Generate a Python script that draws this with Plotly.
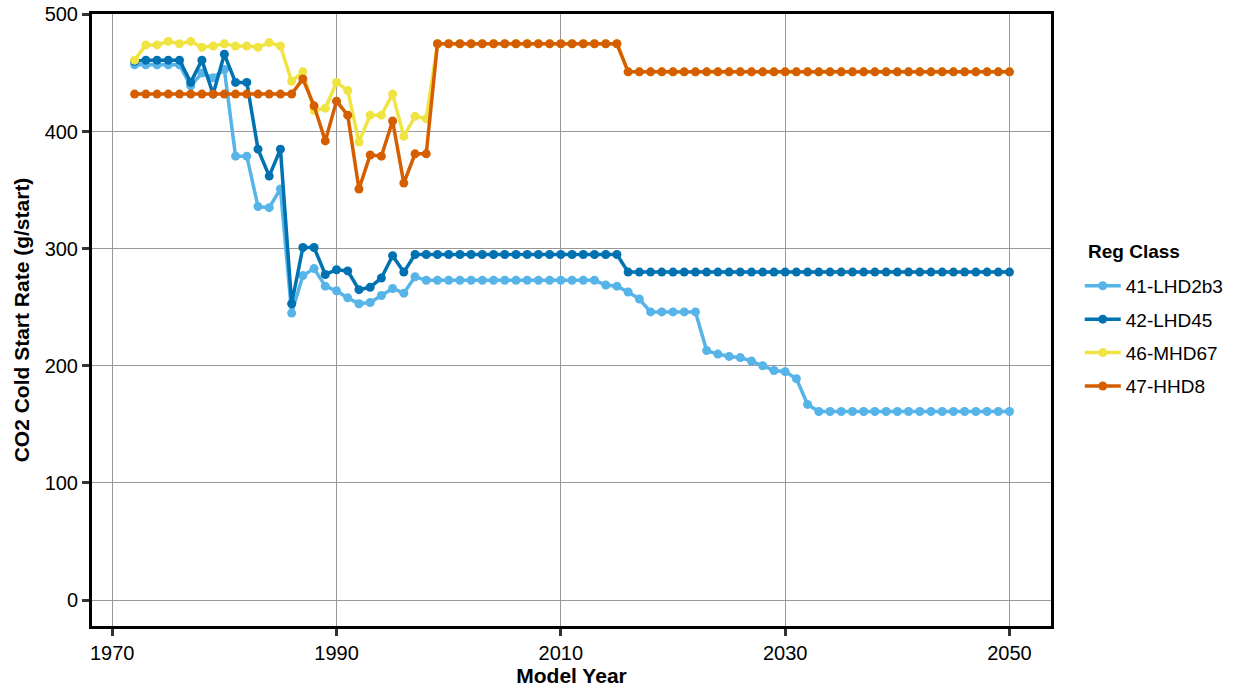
import plotly.graph_objects as go

years = list(range(1972, 2051))

lhd2b3 = [457, 457, 457, 457, 457, 439, 450, 446, 453, 379,
          379, 336, 335, 351, 245, 277, 283, 268, 264, 258,
          253, 254, 260, 266, 262, 276, 273, 273, 273, 273,
          273, 273, 273, 273, 273, 273, 273, 273, 273, 273,
          273, 273, 269, 268, 263, 257, 246, 246, 246, 246,
          246, 213, 210, 208, 207, 204, 200, 196, 195, 189,
          167, 161, 161, 161, 161, 161, 161, 161, 161, 161,
          161, 161, 161, 161, 161, 161, 161, 161, 161]

lhd45 = [460, 461, 461, 461, 461, 442, 461, 432, 466, 442,
         442, 385, 362, 385, 253, 301, 301, 278, 282, 281,
         265, 267, 275, 294, 280, 295, 295, 295, 295, 295,
         295, 295, 295, 295, 295, 295, 295, 295, 295, 295,
         295, 295, 295, 295, 280, 280, 280, 280, 280, 280,
         280, 280, 280, 280, 280, 280, 280, 280, 280, 280,
         280, 280, 280, 280, 280, 280, 280, 280, 280, 280,
         280, 280, 280, 280, 280, 280, 280, 280, 280]

mhd67 = [461, 474, 474, 477, 475, 477, 472, 473, 475, 473,
         473, 472, 476, 473, 443, 451, 418, 420, 442, 435,
         391, 414, 414, 432, 396, 413, 411, 475, 475, 475,
         475, 475, 475, 475, 475, 475, 475, 475, 475, 475,
         475, 475, 475, 475, 451, 451, 451, 451, 451, 451,
         451, 451, 451, 451, 451, 451, 451, 451, 451, 451,
         451, 451, 451, 451, 451, 451, 451, 451, 451, 451,
         451, 451, 451, 451, 451, 451, 451, 451, 451]

hhd8 = [432, 432, 432, 432, 432, 432, 432, 432, 432, 432,
        432, 432, 432, 432, 432, 445, 422, 392, 426, 414,
        351, 380, 379, 409, 356, 381, 381, 475, 475, 475,
        475, 475, 475, 475, 475, 475, 475, 475, 475, 475,
        475, 475, 475, 475, 451, 451, 451, 451, 451, 451,
        451, 451, 451, 451, 451, 451, 451, 451, 451, 451,
        451, 451, 451, 451, 451, 451, 451, 451, 451, 451,
        451, 451, 451, 451, 451, 451, 451, 451, 451]

series = [
    ("41-LHD2b3", lhd2b3, "#56B4E9"),
    ("42-LHD45", lhd45, "#0072B2"),
    ("46-MHD67", mhd67, "#F0E442"),
    ("47-HHD8", hhd8, "#D55E00"),
]

x_ticks = [1970, 1990, 2010, 2030, 2050]
y_ticks = [0, 100, 200, 300, 400, 500]

fig = go.Figure()
for name, vals, color in series:
    fig.add_trace(go.Scatter(
        x=years, y=vals, name=name, mode="lines+markers",
        legendgroup=name,
        line=dict(color=color, width=3.5),
        marker=dict(color=color, size=9),
    ))

font_family = "Liberation Sans, Arial, sans-serif"
fig.update_layout(
    width=1238, height=687,
    margin=dict(l=91.8, r=186.5, t=13.5, b=61, autoexpand=False),
    paper_bgcolor="white", plot_bgcolor="white",
    font=dict(family=font_family, size=20, color="black"),
    legend=dict(
        x=1.03, xanchor="left", y=0.474, yanchor="middle",
        font=dict(size=19, color="black"),
        traceorder="grouped", tracegroupgap=5.7, itemwidth=36,
    ),
    showlegend=True,
    annotations=[dict(
        text="<b>Reg Class</b>", xref="paper", yref="paper",
        x=1.036, y=0.6127, xanchor="left", yanchor="middle",
        showarrow=False, font=dict(size=19, color="black"),
    )],
)
fig.update_xaxes(
    range=[1968.2, 2053.7], tickvals=x_ticks, automargin=False,
    title=dict(text="<b>Model Year</b>", font=dict(size=21), standoff=6),
    showgrid=True, gridcolor="#999999", gridwidth=1.2,
    showline=True, linecolor="black", linewidth=3, mirror=True,
    ticks="outside", ticklen=7, tickwidth=2.5, tickcolor="#333333",
    zeroline=False, tickfont=dict(size=20, color="black"),
    ticklabeloverflow="allow",
)
fig.update_yaxes(
    range=[-22.2, 500.4], tickvals=y_ticks, automargin=False,
    title=dict(text="<b>CO2 Cold Start Rate (g/start)</b>", font=dict(size=21), standoff=10),
    showgrid=True, gridcolor="#999999", gridwidth=1.2,
    showline=True, linecolor="black", linewidth=3, mirror=True,
    ticks="outside", ticklen=7, tickwidth=2.5, tickcolor="#333333",
    zeroline=False, tickfont=dict(size=20, color="black"),
    ticklabeloverflow="allow",
)

fig.write_html(
    "out.html",
    config={"displayModeBar": False},
    post_script="document.body.style.margin='0';document.body.style.overflow='hidden';",
)
